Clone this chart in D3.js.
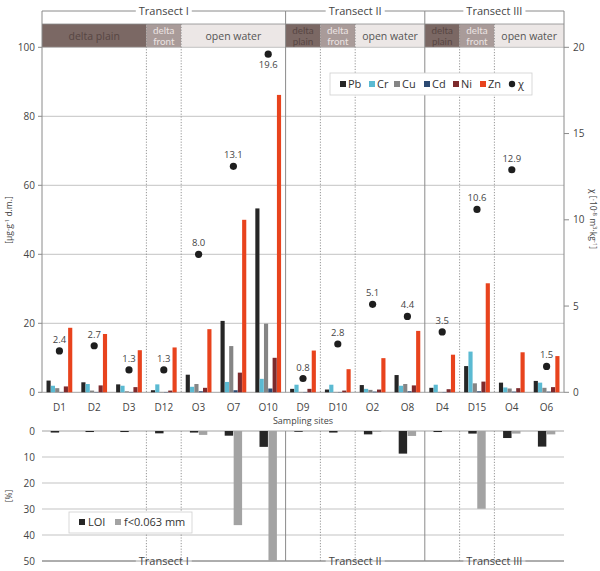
<!DOCTYPE html>
<html><head><meta charset="utf-8">
<script src="https://cdn.jsdelivr.net/npm/d3@7"></script>
<style>body{margin:0;background:#fff}svg{display:block;font-family:"Open Sans",Arial,sans-serif}</style>
</head><body><svg id="c" width="600" height="571"></svg>
<script>
const sites = ["D1","D2","D3","D12","O3","O7","O10","D9","D10","O2","O8","D4","D15","O4","O6"];
const metals = ["Pb","Cr","Cu","Cd","Ni","Zn"];
const metalColors = ["#262626","#5bbad2","#858585","#2c4a72","#7d2a2c","#e8431d"];
const Pb = [3.4,2.9,2.3,0.6,5.1,20.7,53.3,1.0,0.8,2.1,5.0,1.3,7.6,2.8,3.3];
const Cr = [1.9,2.4,1.9,2.3,1.6,3.0,3.9,2.2,2.2,1.0,1.9,2.2,11.8,1.4,2.8];
const Cu = [1.2,0.5,0.3,0.1,2.4,13.4,19.9,0.1,0.1,0.7,2.4,0.1,2.6,1.1,1.3];
const Cd = [0.1,0.1,0.1,0.1,0.3,0.6,1.1,0.1,0.1,0.2,0.3,0.1,0.3,0.2,0.2];
const Ni = [1.7,2.0,1.5,0.5,1.3,5.7,10.0,1.0,0.5,0.8,2.0,0.9,3.1,1.2,1.5];
const Zn = [18.7,16.9,12.2,13.0,18.3,50.0,86.2,12.1,6.7,9.9,17.8,10.9,31.6,11.6,10.5];
const chi = [2.4,2.7,1.3,1.3,8.0,13.1,19.6,0.8,2.8,5.1,4.4,3.5,10.6,12.9,1.5];
const LOI = [0.6,0.4,0.4,0.9,0.6,1.8,6.1,0.3,0.6,1.3,8.7,0.4,1.0,2.7,6.0];
const fine = [0,0,0,0,1.5,36.2,50,0,0,0.3,1.9,0,29.9,1.0,1.3];
const transects = [{name:"Transect I",from:0,to:7},{name:"Transect II",from:7,to:11},{name:"Transect III",from:11,to:15}];
const zones = [
 {name:["delta plain"],from:0,to:3,t:0},{name:["delta","front"],from:3,to:4,t:1},{name:["open water"],from:4,to:7,t:2},
 {name:["delta","plain"],from:7,to:8,t:0},{name:["delta","front"],from:8,to:9,t:1},{name:["open water"],from:9,to:11,t:2},
 {name:["delta","plain"],from:11,to:12,t:0},{name:["delta","front"],from:12,to:13,t:1},{name:["open water"],from:13,to:15,t:2}];
const zoneFill = ["#7b6864","#a99b99","#ece7e6"];
const zoneText = ["#574643","#ece4e3","#555"];
const leftTicks = [0,20,40,60,80,100];
const rightTicks = [0,5,10,15,20];
const bottomTicks = [0,10,20,30,40,50];

const svg = d3.select("#c");
const X0 = 42, X1 = 564;
const x = d3.scaleBand().domain(sites).range([X0,X1]).padding(0);
const bw = x.bandwidth();
const xi = d3.scaleBand().domain(metals).range([bw*0.13, bw*0.87]).paddingInner(0.04);
const y = d3.scaleLinear().domain([0,100]).range([392.3,47.3]);
const yc = d3.scaleLinear().domain([0,20]).range([392.3,47.3]);
const yb = d3.scaleLinear().domain([0,50]).range([431,561]);
const xpos = i => X0 + i*bw;
const grid = "#b4b4b4", axisC = "#8a8a8a";

// header band
const hb = svg.append("g");
zones.forEach(z=>{
  hb.append("rect").attr("x",xpos(z.from)).attr("y",24).attr("width",xpos(z.to)-xpos(z.from)).attr("height",23.3).attr("fill",zoneFill[z.t]);
  const cx=(xpos(z.from)+xpos(z.to))/2;
  if(z.name.length===1) {
    hb.append("text").attr("x",cx).attr("y",39.5).attr("text-anchor","middle").attr("font-size",10.5).attr("fill",zoneText[z.t]).text(z.name[0]);
  } else {
    z.name.forEach((ln,j)=>{
      hb.append("text").attr("x",cx).attr("y",j?44.5:33.5).attr("text-anchor","middle")
        .attr("font-family","Lato, 'Open Sans', sans-serif").attr("font-size",9.8).attr("fill",zoneText[z.t]).text(ln);
    });
  }
});
svg.append("line").attr("x1",X0).attr("x2",X1).attr("y1",24).attr("y2",24).attr("stroke",axisC).attr("stroke-width",0.8);

// grid upper
svg.append("g").selectAll("line").data(leftTicks).join("line")
  .attr("x1",X0).attr("x2",X1).attr("y1",d=>y(d)).attr("y2",d=>y(d))
  .attr("stroke",d=>d===0?axisC:grid).attr("stroke-width",0.8);
// grid lower
svg.append("g").selectAll("line").data(bottomTicks).join("line")
  .attr("x1",X0).attr("x2",X1).attr("y1",d=>yb(d)).attr("y2",d=>yb(d))
  .attr("stroke",d=>d===0||d===50?axisC:grid).attr("stroke-width",0.8);

// dotted zone boundaries
const dotted=[];
zones.forEach(z=>{ if(!transects.some(t=>t.from===z.from)) dotted.push(z.from); });
dotted.forEach(i=>{
  svg.append("line").attr("x1",xpos(i)).attr("x2",xpos(i)).attr("y1",24).attr("y2",392.3).attr("stroke","#8a8a8a").attr("stroke-width",0.9).attr("stroke-dasharray","1.2,1.6");
  svg.append("line").attr("x1",xpos(i)).attr("x2",xpos(i)).attr("y1",431).attr("y2",561).attr("stroke","#8a8a8a").attr("stroke-width",0.9).attr("stroke-dasharray","1.2,1.6");
});
// solid transect lines
[X0, xpos(7), xpos(11), X1].forEach((xx,k)=>{
  svg.append("line").attr("x1",xx).attr("x2",xx).attr("y1",11).attr("y2",392.3).attr("stroke",axisC).attr("stroke-width",1);
  if(k===1||k===2) svg.append("line").attr("x1",xx).attr("x2",xx).attr("y1",431).attr("y2",561).attr("stroke",axisC).attr("stroke-width",1);
});

// transect labels top and bottom
function transectLine(yy){
  transects.forEach(t=>{
    const a=xpos(t.from), b=xpos(t.to), c=(a+b)/2;
    const txt=svg.append("text").attr("x",c).attr("y",yy+4).attr("text-anchor","middle").attr("font-size",11).attr("fill","#444").text(t.name);
    const w=txt.node().getComputedTextLength()/2+3;
    svg.append("line").attr("x1",a).attr("x2",c-w).attr("y1",yy).attr("y2",yy).attr("stroke",axisC).attr("stroke-width",1);
    svg.append("line").attr("x1",c+w).attr("x2",b).attr("y1",yy).attr("y2",yy).attr("stroke",axisC).attr("stroke-width",1);
  });
}
transectLine(11);
transectLine(561);

// bars
const series=[Pb,Cr,Cu,Cd,Ni,Zn];
metals.forEach((m,k)=>{
  svg.append("g").selectAll("rect").data(sites).join("rect")
    .attr("x",(s)=>x(s)+xi(m)).attr("width",xi.bandwidth())
    .attr("y",(s,i)=>y(series[k][i])).attr("height",(s,i)=>y(0)-y(series[k][i]))
    .attr("fill",metalColors[k]);
});

// chi dots
svg.append("g").selectAll("circle").data(sites).join("circle")
  .attr("cx",s=>x(s)+bw/2).attr("cy",(s,i)=>yc(chi[i])).attr("r",3.6).attr("fill","#1e1e1e");
svg.append("g").selectAll("text").data(sites).join("text")
  .attr("x",s=>x(s)+bw/2).attr("y",(s,i)=>chi[i]>18?yc(chi[i])+14:yc(chi[i])-8)
  .attr("text-anchor","middle").attr("font-size",9.5).attr("fill","#444")
  .text((s,i)=>chi[i].toFixed(1));

// left axis
svg.append("g").selectAll("text").data(leftTicks).join("text")
  .attr("x",35).attr("y",d=>y(d)+3.5).attr("text-anchor","end").attr("font-size",10).attr("fill","#444").text(d=>d);
svg.append("g").selectAll("line").data(leftTicks).join("line")
  .attr("x1",38).attr("x2",X0).attr("y1",d=>y(d)).attr("y2",d=>y(d)).attr("stroke",axisC);
// right axis
svg.append("g").selectAll("text").data(rightTicks).join("text")
  .attr("x",573).attr("y",d=>yc(d)+3.5).attr("text-anchor","start").attr("font-size",10).attr("fill","#444").text(d=>d);
svg.append("g").selectAll("line").data(rightTicks).join("line")
  .attr("x1",X1).attr("x2",569).attr("y1",d=>yc(d)).attr("y2",d=>yc(d)).attr("stroke",axisC);
// axis titles
svg.append("text").attr("transform","translate(12,220) rotate(-90)").attr("text-anchor","middle").attr("font-size",8.5).attr("fill","#444")
  .html("[µg·g<tspan dy='-3' font-size='6'>-1</tspan><tspan dy='3'> d.m.]</tspan>");
svg.append("text").attr("transform","translate(590,219) rotate(90)").attr("text-anchor","middle").attr("font-size",8.5).attr("fill","#444")
  .html("χ [·10<tspan dy='-3' font-size='6'>-8</tspan><tspan dy='3'> m</tspan><tspan dy='-3' font-size='6'>3</tspan><tspan dy='3'>·kg</tspan><tspan dy='-3' font-size='6'>-1</tspan><tspan dy='3'>]</tspan>");

// site labels
svg.append("g").selectAll("text").data(sites).join("text")
  .attr("x",s=>x(s)+bw/2).attr("y",411).attr("text-anchor","middle").attr("font-size",10).attr("fill","#444").text(s=>s);
svg.append("text").attr("x",(X0+X1)/2).attr("y",424).attr("text-anchor","middle").attr("font-size",9).attr("fill","#444").text("Sampling sites");

// upper legend
const lg=svg.append("g");
lg.append("rect").attr("x",330).attr("y",73).attr("width",202).attr("height",22).attr("fill","#fff").attr("stroke","#cfcfcf").attr("stroke-width",0.8);
const legX=[340,369,394,424,453,480];
metals.forEach((m,k)=>{
  lg.append("rect").attr("x",legX[k]).attr("y",81).attr("width",6).attr("height",6).attr("fill",metalColors[k]);
  lg.append("text").attr("x",legX[k]+8).attr("y",88).attr("font-size",11).attr("fill","#333").text(m);
});
lg.append("circle").attr("cx",512).attr("cy",84).attr("r",3.2).attr("fill","#1e1e1e");
lg.append("text").attr("x",518).attr("y",88).attr("font-size",11).attr("fill","#333").text("χ");

// lower bars
const xl = d3.scaleBand().domain(["LOI","fine"]).range([bw*0.25,bw*0.75]).paddingInner(0.06);
svg.append("g").selectAll("rect").data(sites).join("rect")
  .attr("x",s=>x(s)+xl("LOI")).attr("width",xl.bandwidth()).attr("y",yb(0))
  .attr("height",(s,i)=>yb(LOI[i])-yb(0)).attr("fill","#262626");
svg.append("g").selectAll("rect").data(sites).join("rect")
  .attr("x",s=>x(s)+xl("fine")).attr("width",xl.bandwidth()).attr("y",yb(0))
  .attr("height",(s,i)=>yb(fine[i])-yb(0)).attr("fill","#a3a3a3");

// lower axis
svg.append("g").selectAll("text").data(bottomTicks).join("text")
  .attr("x",35).attr("y",d=>yb(d)+3.5).attr("text-anchor","end").attr("font-size",10).attr("fill","#444").text(d=>d);
svg.append("text").attr("transform","translate(12,496) rotate(-90)").attr("text-anchor","middle").attr("font-size",8.5).attr("fill","#444").text("[%]");

// lower legend
const lg2=svg.append("g");
lg2.append("rect").attr("x",69).attr("y",512).attr("width",123).attr("height",21).attr("fill","#fff").attr("stroke","#cfcfcf").attr("stroke-width",0.8);
lg2.append("rect").attr("x",79).attr("y",519).attr("width",6).attr("height",6).attr("fill","#262626");
lg2.append("text").attr("x",88).attr("y",526).attr("font-size",11).attr("fill","#333").text("LOI");
lg2.append("rect").attr("x",115).attr("y",519).attr("width",6).attr("height",6).attr("fill","#a3a3a3");
lg2.append("text").attr("x",124).attr("y",526).attr("font-size",11).attr("fill","#333").text("f<0.063 mm");
</script></body></html>
